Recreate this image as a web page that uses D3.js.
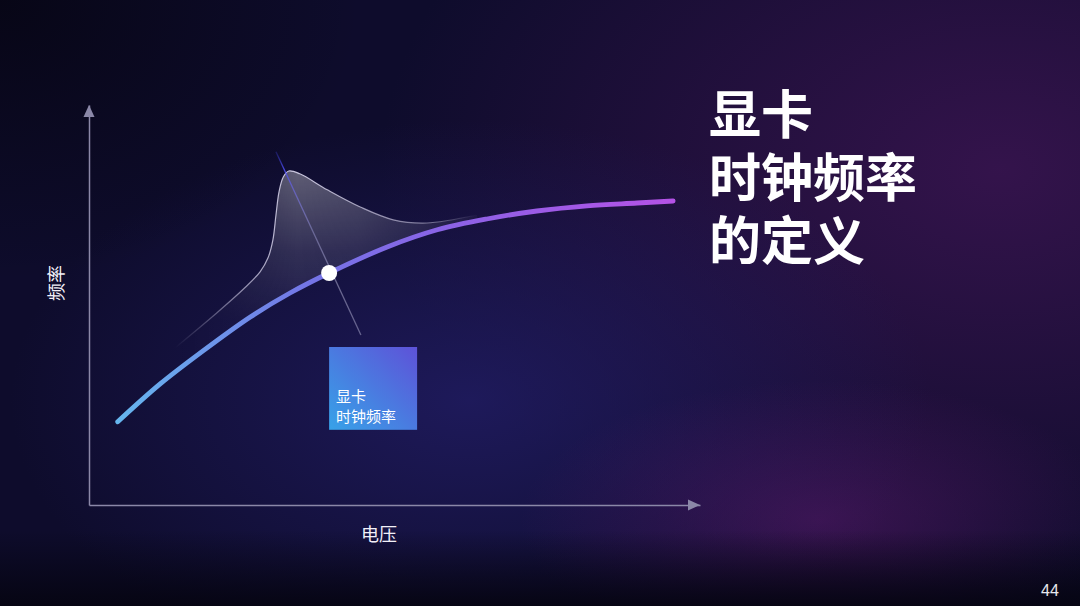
<!DOCTYPE html>
<html>
<head>
<meta charset="utf-8">
<script src="https://cdn.jsdelivr.net/npm/d3@7"></script>
<style>
html,body{margin:0;padding:0;background:#0c0a24;}
svg{display:block;}
</style>
</head>
<body>
<script>
// ---- data ----
const voltage   = [0.47, 1.16, 1.82, 2.64, 3.29, 3.93, 4.88, 5.70, 6.51, 7.33, 8.15, 8.97, 9.56];
const frequency = [2.08, 3.02, 3.80, 4.70, 5.30, 5.80, 6.45, 6.88, 7.15, 7.35, 7.48, 7.55, 7.60];
const bellVoltage = [1.41, 2.09, 2.55, 2.80, 2.93, 3.01, 3.06, 3.11, 3.18, 3.27, 3.45, 3.90, 4.44, 4.98, 5.53, 6.35];
const bellHeight  = [3.93, 4.80, 5.43, 5.83, 6.18, 6.63, 7.25, 7.83, 8.20, 8.35, 8.28, 7.88, 7.45, 7.13, 7.05, 7.25];
const markerPoint = {v: 3.93, f: 5.80};
const crossLine = [{v: 3.06, f: 8.83}, {v: 4.45, f: 4.25}];
const titleLines = ["显卡", "时钟频率", "的定义"];
const boxLines = ["显卡", "时钟频率"];
const xLabel = "电压";
const yLabel = "频率";
const pageNumber = "44";

const W = 1080, H = 606;
const svg = d3.select("body").append("svg").attr("width", W).attr("height", H);
const defs = svg.append("defs");

// background gradients
function radial(id, stops){
  const g = defs.append("radialGradient").attr("id", id);
  stops.forEach(s => g.append("stop").attr("offset", s[0]).attr("stop-color", s[1]).attr("stop-opacity", s[2]));
}
radial("bgPurple", [[0,"#38144f",0.9],[1,"#38144f",0]]);
radial("bgBlue", [[0,"#221d66",0.8],[1,"#221d66",0]]);
radial("bgMag", [[0,"#5a1a6c",0.55],[1,"#5a1a6c",0]]);
radial("bgDark", [[0,"#05040f",0.75],[1,"#05040f",0]]);
const bot = defs.append("linearGradient").attr("id","bgBottom").attr("x1",0).attr("y1",0).attr("x2",0).attr("y2",1);
bot.append("stop").attr("offset",0).attr("stop-color","#050410").attr("stop-opacity",0);
bot.append("stop").attr("offset",1).attr("stop-color","#050410").attr("stop-opacity",0.9);

svg.append("rect").attr("width",W).attr("height",H).attr("fill","#0e0c2c");
svg.append("ellipse").attr("cx",1000).attr("cy",170).attr("rx",620).attr("ry",420).attr("fill","url(#bgPurple)");
svg.append("ellipse").attr("cx",470).attr("cy",400).attr("rx",460).attr("ry",280).attr("fill","url(#bgBlue)");
svg.append("ellipse").attr("cx",820).attr("cy",520).attr("rx",300).attr("ry",140).attr("fill","url(#bgMag)");
svg.append("ellipse").attr("cx",0).attr("cy",0).attr("rx",360).attr("ry",280).attr("fill","url(#bgDark)");
svg.append("rect").attr("x",0).attr("y",530).attr("width",W).attr("height",76).attr("fill","url(#bgBottom)");

// ---- scales ----
const x = d3.scaleLinear().domain([0, 10]).range([89, 700]);
const y = d3.scaleLinear().domain([0, 10]).range([505, 105]);

// axes (domain lines only)
const axisColor = "#8b88a8";
const gx = svg.append("g").attr("transform", `translate(0,${y(0)})`)
  .call(d3.axisBottom(x).tickValues([]).tickSizeOuter(0));
const gy = svg.append("g").attr("transform", `translate(${x(0)},0)`)
  .call(d3.axisLeft(y).tickValues([]).tickSizeOuter(0));
[gx, gy].forEach(g => g.select(".domain").attr("stroke", axisColor).attr("stroke-width", 1.5));
svg.append("path").attr("d", `M${x(10)},${y(0)} l-12,-5.5 l0,11 Z`).attr("fill", axisColor);
svg.append("path").attr("d", `M${x(0)},${y(10)} l-5.5,12 l11,0 Z`).attr("fill", axisColor);

// axis labels
svg.append("text").attr("x", 379).attr("y", 541).attr("text-anchor","middle")
  .attr("font-family","'Noto Sans CJK SC'").attr("font-size",18).attr("fill","#f2f0f8").text(xLabel);
svg.append("text").attr("transform","translate(63,283) rotate(-90)").attr("text-anchor","middle")
  .attr("font-family","'Noto Sans CJK SC'").attr("font-size",18).attr("fill","#f2f0f8").text(yLabel);

const mainPts = voltage.map((v,i)=>[v, frequency[i]]);
const bellPts = bellVoltage.map((v,i)=>[v, bellHeight[i]]);
const smooth = d3.curveCatmullRom.alpha(0.5);

// clip: region above main curve
defs.append("clipPath").attr("id","aboveCurve").append("path")
  .attr("d", d3.area().x(d=>x(d[0])).y0(0).y1(d=>y(d[1])).curve(smooth)(mainPts));

// bell fill
const bellFill = defs.append("linearGradient").attr("id","bellFill").attr("gradientUnits","userSpaceOnUse")
  .attr("x1", 0).attr("y1", y(8.4)).attr("x2", 0).attr("y2", y(4.6));
bellFill.append("stop").attr("offset",0).attr("stop-color","#ffffff").attr("stop-opacity",0.34);
bellFill.append("stop").attr("offset",0.55).attr("stop-color","#ffffff").attr("stop-opacity",0.13);
bellFill.append("stop").attr("offset",1).attr("stop-color","#ffffff").attr("stop-opacity",0.03);
const bellFade = defs.append("linearGradient").attr("id","bellFade").attr("gradientUnits","userSpaceOnUse")
  .attr("x1", 175).attr("y1", 0).attr("x2", 480).attr("y2", 0);
[[0,0],[0.25,0.7],[0.4,1],[0.6,0.85],[1,0.1]].forEach(s =>
  bellFade.append("stop").attr("offset",s[0]).attr("stop-color","#fff").attr("stop-opacity",s[1]));
defs.append("mask").attr("id","fadeMask").append("rect").attr("x",0).attr("y",0).attr("width",W).attr("height",H).attr("fill","url(#bellFade)");

svg.append("g").attr("clip-path","url(#aboveCurve)").attr("mask","url(#fadeMask)")
  .append("path")
  .attr("d", d3.area().x(d=>x(d[0])).y0(y(0)).y1(d=>y(d[1])).curve(smooth)(bellPts))
  .attr("fill","url(#bellFill)");

// bell outline
const bellStroke = defs.append("linearGradient").attr("id","bellStroke").attr("gradientUnits","userSpaceOnUse")
  .attr("x1", x(bellVoltage[0])).attr("y1",0).attr("x2", x(bellVoltage[bellVoltage.length-1])).attr("y2",0);
[[0,0],[0.22,0.6],[0.38,0.9],[0.6,0.7],[0.85,0.45],[1,0]].forEach(s =>
  bellStroke.append("stop").attr("offset",s[0]).attr("stop-color","#dcd8f0").attr("stop-opacity",s[1]));
svg.append("path")
  .attr("d", d3.line().x(d=>x(d[0])).y(d=>y(d[1])).curve(smooth)(bellPts))
  .attr("fill","none").attr("stroke","url(#bellStroke)").attr("stroke-width",1.2);

// cross line
const crossGrad = defs.append("linearGradient").attr("id","crossGrad").attr("gradientUnits","userSpaceOnUse")
  .attr("x1", x(crossLine[0].v)).attr("y1", y(crossLine[0].f)).attr("x2", x(crossLine[1].v)).attr("y2", y(crossLine[1].f));
[[0,"#3a3ad0",0.3],[0.1,"#4a4ae8",0.95],[0.2,"#6a66e0",0.7],[0.45,"#9a98d0",0.5],[0.7,"#b0aed0",0.55],[1,"#b0aed0",0.5]].forEach(s =>
  crossGrad.append("stop").attr("offset",s[0]).attr("stop-color",s[1]).attr("stop-opacity",s[2]));
svg.append("path")
  .attr("d", d3.line().x(d=>x(d.v)).y(d=>y(d.f))(crossLine))
  .attr("stroke","url(#crossGrad)").attr("stroke-width",1.3).attr("fill","none");

// main curve
const mainGrad = defs.append("linearGradient").attr("id","mainGrad").attr("gradientUnits","userSpaceOnUse")
  .attr("x1", x(voltage[0])).attr("y1",0).attr("x2", x(voltage[voltage.length-1])).attr("y2",0);
[[0,"#66b6ee"],[0.35,"#7474e6"],[0.6,"#8c62e6"],[1,"#b452e6"]].forEach(s =>
  mainGrad.append("stop").attr("offset",s[0]).attr("stop-color",s[1]));
svg.append("path")
  .attr("d", d3.line().x(d=>x(d[0])).y(d=>y(d[1])).curve(smooth)(mainPts))
  .attr("fill","none").attr("stroke","url(#mainGrad)").attr("stroke-width",4.8).attr("stroke-linecap","round");

// marker point
svg.append("circle").attr("cx", x(markerPoint.v)).attr("cy", y(markerPoint.f)).attr("r", 8).attr("fill","#ffffff");

// annotation box
const boxGrad = defs.append("linearGradient").attr("id","boxGrad").attr("x1",0).attr("y1",1).attr("x2",1).attr("y2",0);
boxGrad.append("stop").attr("offset",0).attr("stop-color","#37a2e8");
boxGrad.append("stop").attr("offset",1).attr("stop-color","#5e52d8");
const bx = x(markerPoint.v), by = y(3.95), bw = x(1.44) - x(0), bh = y(1.88) - y(3.95);
svg.append("rect").attr("x", bx).attr("y", by).attr("width", bw).attr("height", bh).attr("fill","url(#boxGrad)");
const boxText = svg.append("text").attr("font-family","'Noto Sans CJK SC'").attr("font-size",15).attr("fill","#ffffff");
boxText.selectAll("tspan").data(boxLines).join("tspan")
  .attr("x", bx + 7).attr("y", (d,i)=> by + 55 + i*20).text(d=>d);

// title: Latin primary font keeps the line box compact, CJK glyphs come from Noto Sans CJK
const title = svg.append("g");
title.selectAll("text").data(titleLines).join("text")
  .attr("x", 709).attr("y", (d,i)=> 134 + i*63)
  .attr("font-family","'Liberation Sans', 'Noto Sans CJK SC'").attr("font-weight",700).attr("font-size",52)
  .attr("fill","#ffffff").text(d=>d);

// page number
svg.append("text").attr("x", 1050).attr("y", 596).attr("text-anchor","middle")
  .attr("font-family","'Liberation Sans', Arial").attr("font-size",16).attr("fill","#e8e8ee").text(pageNumber);
</script>
</body>
</html>
